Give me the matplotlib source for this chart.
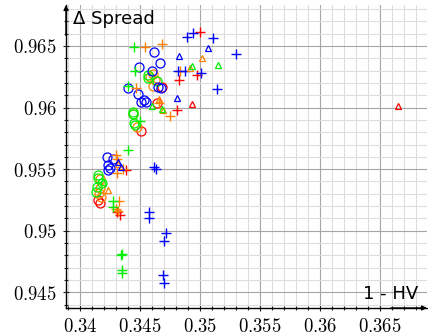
import matplotlib.pyplot as plt
import numpy as np
from matplotlib.ticker import MultipleLocator, FuncFormatter

plt.rcParams['mathtext.fontset'] = 'cm'

# (1 - HV, delta spread), one list pair per colour/marker
blue_o_x = [0.34617, 0.34667, 0.34492, 0.34603, 0.34653, 0.34398, 0.34673, 0.34486,
            0.34533, 0.34550, 0.34506, 0.34223, 0.34278, 0.34236, 0.34250, 0.34236]
blue_o_y = [0.96454, 0.96360, 0.96332, 0.96299, 0.96170, 0.96157, 0.96157, 0.96110,
            0.96062, 0.96043, 0.96048, 0.95601, 0.95580, 0.95534, 0.95507, 0.95493]
blue_p_x = [0.34892, 0.34942, 0.35108, 0.35300, 0.34817, 0.34875, 0.35008, 0.35142,
            0.34619, 0.34631, 0.34578, 0.34575, 0.34717, 0.34703, 0.34689, 0.34703]
blue_p_y = [0.96573, 0.96606, 0.96565, 0.96435, 0.96301, 0.96297, 0.96277, 0.96148,
            0.95520, 0.95499, 0.95152, 0.95106, 0.94984, 0.94919, 0.94640, 0.94573]
blue_t_x = [0.35063, 0.34821, 0.34806, 0.34319, 0.34342]
blue_t_y = [0.96481, 0.96419, 0.96079, 0.95561, 0.95520]

red_o_x = [0.34683, 0.34639, 0.34506, 0.34153, 0.34167]
red_o_y = [0.96163, 0.96035, 0.95812, 0.95250, 0.95223]
red_p_x = [0.35004, 0.34829, 0.34971, 0.34806, 0.34381, 0.34333, 0.34306]
red_p_y = [0.96612, 0.96224, 0.96265, 0.95980, 0.95493, 0.95128, 0.95155]
red_t_x = [0.34933, 0.36648]
red_t_y = [0.96025, 0.96013]

orange_o_x = [0.34611, 0.34583, 0.34625, 0.34611, 0.34439, 0.34473,
              0.34167, 0.34167, 0.34158, 0.34175]
orange_o_y = [0.96270, 0.96251, 0.96224, 0.96179, 0.95945, 0.95845,
              0.95418, 0.95345, 0.95304, 0.95276]
orange_p_x = [0.34542, 0.34681, 0.34464, 0.34661, 0.34750, 0.34833, 0.34298,
              0.34306, 0.34361, 0.34306, 0.34328, 0.34298, 0.34319]
orange_p_y = [0.96494, 0.96516, 0.96161, 0.96035, 0.95934, 0.96301, 0.95615,
              0.95582, 0.95499, 0.95466, 0.95241, 0.95176, 0.95160]
orange_t_x = [0.35014, 0.34917, 0.34658, 0.34689, 0.34319, 0.34231]
orange_t_y = [0.96400, 0.96324, 0.96070, 0.95980, 0.95542, 0.95331]

green_o_x = [0.34569, 0.34564, 0.34639, 0.34439, 0.34444, 0.34450, 0.34458,
             0.34153, 0.34148, 0.34181, 0.34139, 0.34131]
green_o_y = [0.96265, 0.96243, 0.96218, 0.95966, 0.95945, 0.95872, 0.95859,
             0.95453, 0.95426, 0.95390, 0.95357, 0.95317]
green_p_x = [0.34450, 0.34458, 0.34400, 0.34500, 0.34403, 0.34278, 0.34278,
             0.34338, 0.34353, 0.34348, 0.34348]
green_p_y = [0.96494, 0.96297, 0.96175, 0.95893, 0.95656, 0.95241, 0.95190,
             0.94803, 0.94811, 0.94681, 0.94654]
green_t_x = [0.34936, 0.35154, 0.34603, 0.34681, 0.34194]
green_t_y = [0.96334, 0.96347, 0.96012, 0.95986, 0.95398]

fig = plt.figure(figsize=(4.28, 3.35), dpi=100)
ax = fig.add_axes([66 / 428, 27 / 335, 361 / 428, 303 / 335])

series = [
    (red_o_x, red_o_y, 'red', 'o'), (orange_o_x, orange_o_y, '#ff8000', 'o'),
    (green_o_x, green_o_y, '#00ee00', 'o'), (blue_o_x, blue_o_y, 'blue', 'o'),
    (red_p_x, red_p_y, 'red', '+'), (orange_p_x, orange_p_y, '#ff8000', '+'),
    (green_p_x, green_p_y, '#00ee00', '+'), (blue_p_x, blue_p_y, 'blue', '+'),
    (red_t_x, red_t_y, 'red', '^'), (orange_t_x, orange_t_y, '#ff8000', '^'),
    (green_t_x, green_t_y, '#00ee00', '^'), (blue_t_x, blue_t_y, 'blue', '^'),
]
for xs, ys, c, m in series:
    if m == 'o':
        ax.plot(xs, ys, linestyle='none', marker='o', markersize=6.5,
                markerfacecolor='none', markeredgecolor=c, markeredgewidth=0.9)
    elif m == '+':
        ax.plot(xs, ys, linestyle='none', marker='+', markersize=7,
                color=c, markeredgewidth=1.0)
    else:
        ax.plot(xs, ys, linestyle='none', marker='^', markersize=5,
                markerfacecolor='none', markeredgecolor=c, markeredgewidth=0.9)

ax.set_xlim(0.338833, 0.368917)
ax.set_ylim(0.943725, 0.968329)

ax.xaxis.set_major_locator(MultipleLocator(0.005))
ax.xaxis.set_minor_locator(MultipleLocator(0.001))
ax.yaxis.set_major_locator(MultipleLocator(0.005))
ax.yaxis.set_minor_locator(MultipleLocator(0.001))

def fmt(v, pos):
    s = ('%.3f' % v).rstrip('0').rstrip('.')
    return '$' + s + '$'

ax.xaxis.set_major_formatter(FuncFormatter(fmt))
ax.yaxis.set_major_formatter(FuncFormatter(fmt))
ax.tick_params(which='both', direction='inout', labelsize=13.5, width=0.8, color='#222222')
ax.tick_params(which='major', length=5, pad=4)
ax.tick_params(which='minor', length=3.5)

ax.grid(which='major', color='#a5a5a5', linewidth=0.8)
ax.grid(which='minor', color='#dddddd', linewidth=0.8)
ax.set_axisbelow(True)

for s in ['top', 'right']:
    ax.spines[s].set_visible(False)
for s in ['left', 'bottom']:
    ax.spines[s].set_linewidth(1.0)

ax.annotate('', xy=(0, 1.0), xytext=(0, 0.9), xycoords='axes fraction',
            arrowprops=dict(arrowstyle='-|>', color='black', lw=1.0,
                            mutation_scale=7, shrinkA=0, shrinkB=0))
ax.annotate('', xy=(1.0, 0), xytext=(0.9, 0), xycoords='axes fraction',
            arrowprops=dict(arrowstyle='-|>', color='black', lw=1.0,
                            mutation_scale=7, shrinkA=0, shrinkB=0))

ax.text(0.02, 0.985, '\u0394 Spread', transform=ax.transAxes, fontsize=13,
        ha='left', va='top')
ax.text(0.975, 0.015, '1 - HV', transform=ax.transAxes, fontsize=13,
        ha='right', va='bottom')

fig.savefig('out.png', dpi=100)
